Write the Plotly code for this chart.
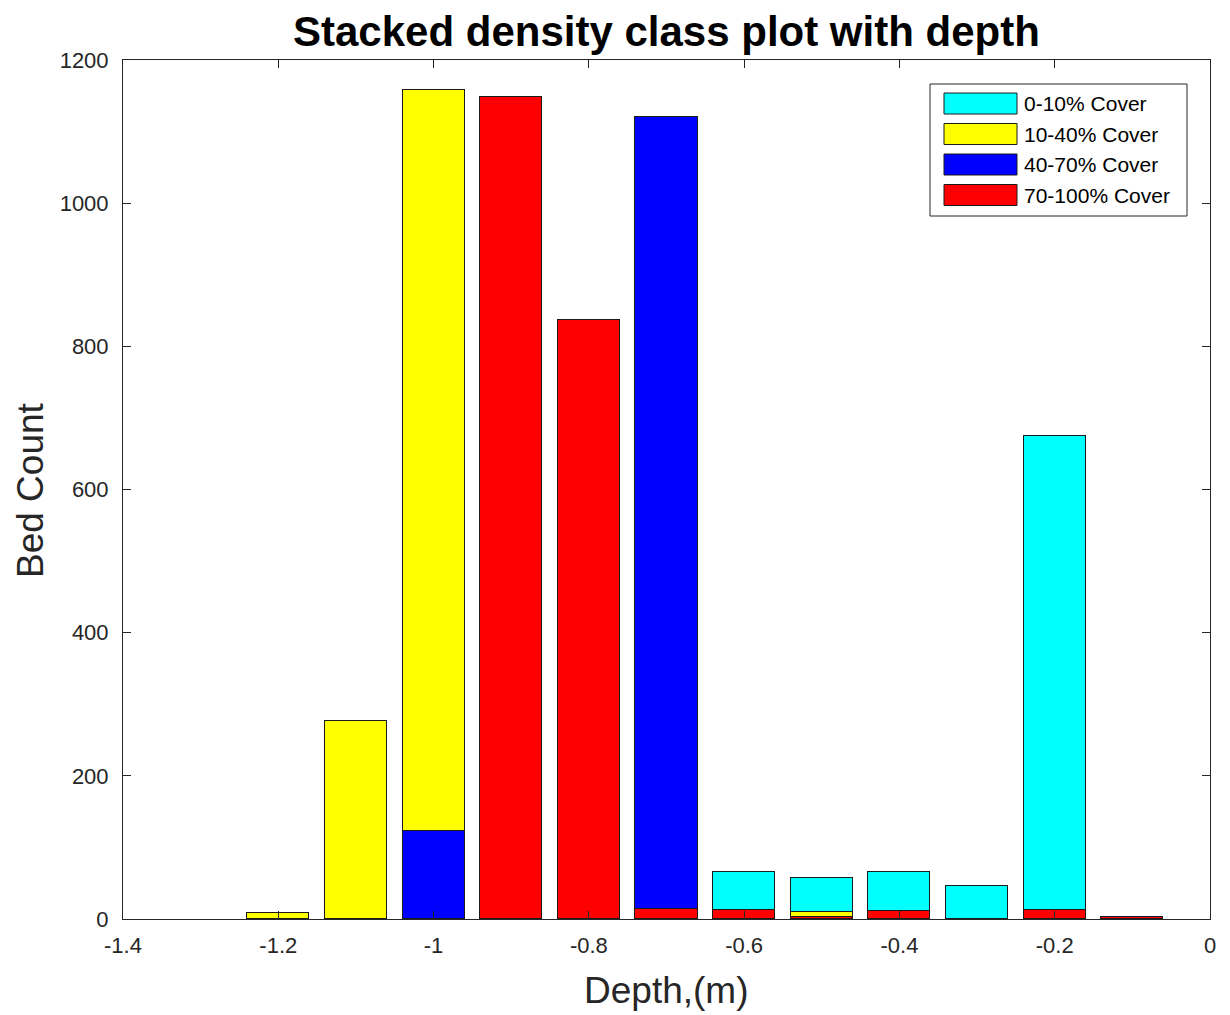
import plotly.graph_objects as go

depth = [-1.3, -1.2, -1.1, -1.0, -0.9, -0.8, -0.7, -0.6, -0.5, -0.4, -0.3, -0.2, -0.1]
cover_70_100 = [None, None, None, None, 1148, 837, 14, 13, 3, 11, None, 13, 3]
cover_40_70 = [None, None, None, 123, None, None, 1107, None, None, None, None, None, None]
cover_10_40 = [None, 8, 276, 1035, None, None, None, None, 7, None, None, None, None]
cover_0_10 = [None, None, None, None, None, None, None, 53, 47, 55, 46, 662, None]

series = [
    ("70-100% Cover", cover_70_100, "#ff0000"),
    ("40-70% Cover", cover_40_70, "#0000ff"),
    ("10-40% Cover", cover_10_40, "#ffff00"),
    ("0-10% Cover", cover_0_10, "#00ffff"),
]

fig = go.Figure()
for name, vals, col in series:
    fig.add_trace(go.Bar(x=depth, y=vals, name=name, width=0.08,
                         marker=dict(color=col, line=dict(color="#1a1a1a", width=1)),
                         showlegend=False))

OFF = 8  # page body offset
L, R, T, B = 123, 1210, 60, 919
W = R - L
H = B - T
def px(x):
    return (x - L) / W
def py(y):
    return (B - y) / H

shapes = []
annotations = []
shapes.append(dict(type="rect", xref="paper", yref="paper",
                   x0=px(930), x1=px(1187), y0=py(216), y1=py(84),
                   line=dict(color="#262626", width=1), fillcolor="white", layer="above"))
legend_items = [("0-10% Cover", "#00ffff"), ("10-40% Cover", "#ffff00"),
                ("40-70% Cover", "#0000ff"), ("70-100% Cover", "#ff0000")]
for i, (name, col) in enumerate(legend_items):
    y0 = 93 + i * 30.5
    shapes.append(dict(type="rect", xref="paper", yref="paper",
                       x0=px(944), x1=px(1017), y0=py(y0 + 21), y1=py(y0),
                       line=dict(color="#1a1a1a", width=1), fillcolor=col, layer="above"))
    annotations.append(dict(xref="paper", yref="paper", x=px(1022), y=py(y0 + 11),
                            text=name, showarrow=False, xanchor="left", yanchor="middle",
                            font=dict(family="Liberation Sans, Arial", size=21, color="#000000")))

annotations.append(dict(xref="paper", yref="paper", x=px(666), y=py(32),
                        text="<b>Stacked density class plot with depth</b>", showarrow=False,
                        xanchor="center", yanchor="middle",
                        font=dict(family="Liberation Sans, Arial", size=42, color="#000000")))
annotations.append(dict(xref="paper", yref="paper", x=px(666), y=py(990),
                        text="Depth,(m)", showarrow=False,
                        xanchor="center", yanchor="middle",
                        font=dict(family="Liberation Sans, Arial", size=37, color="#262626")))
annotations.append(dict(xref="paper", yref="paper", x=px(30), y=py(490),
                        text="Bed Count", showarrow=False, textangle=-90,
                        xanchor="center", yanchor="middle",
                        font=dict(family="Liberation Sans, Arial", size=37, color="#262626")))

fig.update_layout(
    width=1230, height=1015,
    margin=dict(l=L - OFF, r=1230 - R + OFF, t=T - OFF, b=1015 - B + OFF, pad=0, autoexpand=False),
    paper_bgcolor="white", plot_bgcolor="white",
    barmode="stack", bargap=0,
    font=dict(family="Liberation Sans, Arial", size=22, color="#262626"),
    xaxis=dict(range=[-1.4, 0], tickmode="array",
               tickvals=[-1.4, -1.2, -1.0, -0.8, -0.6, -0.4, -0.2, 0],
               ticktext=["-1.4", "-1.2", "-1", "-0.8", "-0.6", "-0.4", "-0.2", "0"],
               ticks="inside", ticklen=8, tickcolor="#262626", showline=True,
               linecolor="#262626", linewidth=1, mirror="ticks", showgrid=False,
               zeroline=False, tickfont=dict(size=22, color="#262626"),
               ticklabelstandoff=7),
    yaxis=dict(range=[0, 1200], tickmode="array",
               tickvals=[0, 200, 400, 600, 800, 1000, 1200],
               ticks="inside", ticklen=8, tickcolor="#262626", showline=True,
               linecolor="#262626", linewidth=1, mirror="ticks", showgrid=False,
               zeroline=False, tickfont=dict(size=22, color="#262626"),
               ticklabelstandoff=9),
    shapes=shapes, annotations=annotations,
)

fig.write_html("out.html")
